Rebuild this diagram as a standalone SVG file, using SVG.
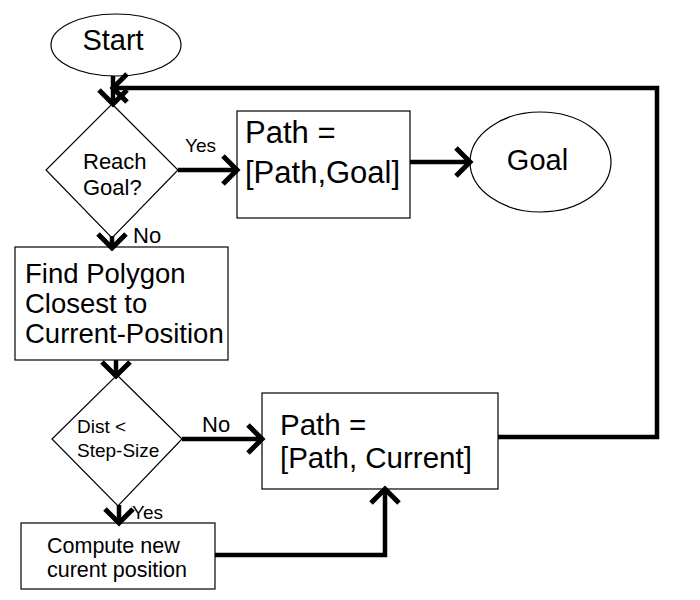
<svg xmlns="http://www.w3.org/2000/svg" width="700" height="600" viewBox="0 0 700 600">
<style>
.shape{fill:#fff;stroke:#000;stroke-width:1.2}
.t{font-family:"Liberation Sans",Arial,sans-serif;fill:#000}
.c{fill:none;stroke:#000;stroke-width:4.5}
</style>
<defs>
<marker id="ah" markerUnits="userSpaceOnUse" markerWidth="22" markerHeight="32" viewBox="0 0 22 32" refX="17" refY="16" orient="auto">
<path d="M3,2 L17,16 L3,30" fill="none" stroke="#000" stroke-width="5"/>
</marker>
</defs>
<rect width="700" height="600" fill="#fff"/>
<g id="start">
<ellipse class="shape" cx="116" cy="45" rx="65" ry="31"/>
<text class="t" x="113" y="50" font-size="29" text-anchor="middle">Start</text>
</g>
<g id="reach-goal">
<polygon class="shape" points="112,104 178,170 112,238 46,170"/>
<text class="t" x="83" y="169" font-size="22">Reach</text>
<text class="t" x="83" y="195" font-size="22">Goal?</text>
</g>
<g id="path-goal">
<rect class="shape" x="237" y="111" width="173" height="107"/>
<text class="t" x="245" y="143" font-size="31">Path =</text>
<text class="t" x="245" y="183" font-size="31">[Path,Goal]</text>
</g>
<g id="goal">
<ellipse class="shape" cx="540.5" cy="162" rx="70.5" ry="50"/>
<text class="t" x="537.5" y="170" font-size="29" text-anchor="middle">Goal</text>
</g>
<g id="find-polygon">
<rect class="shape" x="15" y="247" width="213" height="113"/>
<text class="t" x="25" y="283" font-size="27.5">Find Polygon</text>
<text class="t" x="25" y="313" font-size="27.5">Closest to</text>
<text class="t" x="25" y="343" font-size="27.5">Current-Position</text>
</g>
<g id="dist">
<polygon class="shape" points="117,375 182,439 118,506 52,439"/>
<text class="t" x="77" y="433" font-size="19">Dist &lt;</text>
<text class="t" x="77" y="457" font-size="19">Step-Size</text>
</g>
<g id="path-current">
<rect class="shape" x="262" y="393" width="236" height="96"/>
<text class="t" x="280" y="435" font-size="29.5">Path =</text>
<text class="t" x="280" y="468" font-size="29.5">[Path, Current]</text>
</g>
<g id="compute">
<rect class="shape" x="21" y="523" width="194" height="66"/>
<text class="t" x="47" y="553" font-size="21.5">Compute new</text>
<text class="t" x="47" y="577" font-size="21.5">curent position</text>
</g>
<g id="connectors">
<line class="c" x1="113" y1="76" x2="113" y2="104" marker-end="url(#ah)"/>
<polyline class="c" points="498,437 657,437 657,88 113,88" marker-end="url(#ah)"/>
<line class="c" x1="178" y1="170" x2="237" y2="170" marker-end="url(#ah)"/>
<line class="c" x1="410" y1="162" x2="470" y2="162" marker-end="url(#ah)"/>
<line class="c" x1="112" y1="236" x2="112" y2="248" marker-end="url(#ah)"/>
<line class="c" x1="116" y1="360" x2="116" y2="376" marker-end="url(#ah)"/>
<line class="c" x1="182" y1="439" x2="262" y2="439" marker-end="url(#ah)"/>
<line class="c" x1="119" y1="505" x2="119" y2="523" marker-end="url(#ah)"/>
<polyline class="c" points="215,555 385,555 385,489" marker-end="url(#ah)"/>
<text class="t" x="185" y="152" font-size="19">Yes</text>
<text class="t" x="133" y="243" font-size="22">No</text>
<text class="t" x="202" y="432" font-size="22">No</text>
<text class="t" x="132" y="519" font-size="19">Yes</text>
</g>
</svg>
